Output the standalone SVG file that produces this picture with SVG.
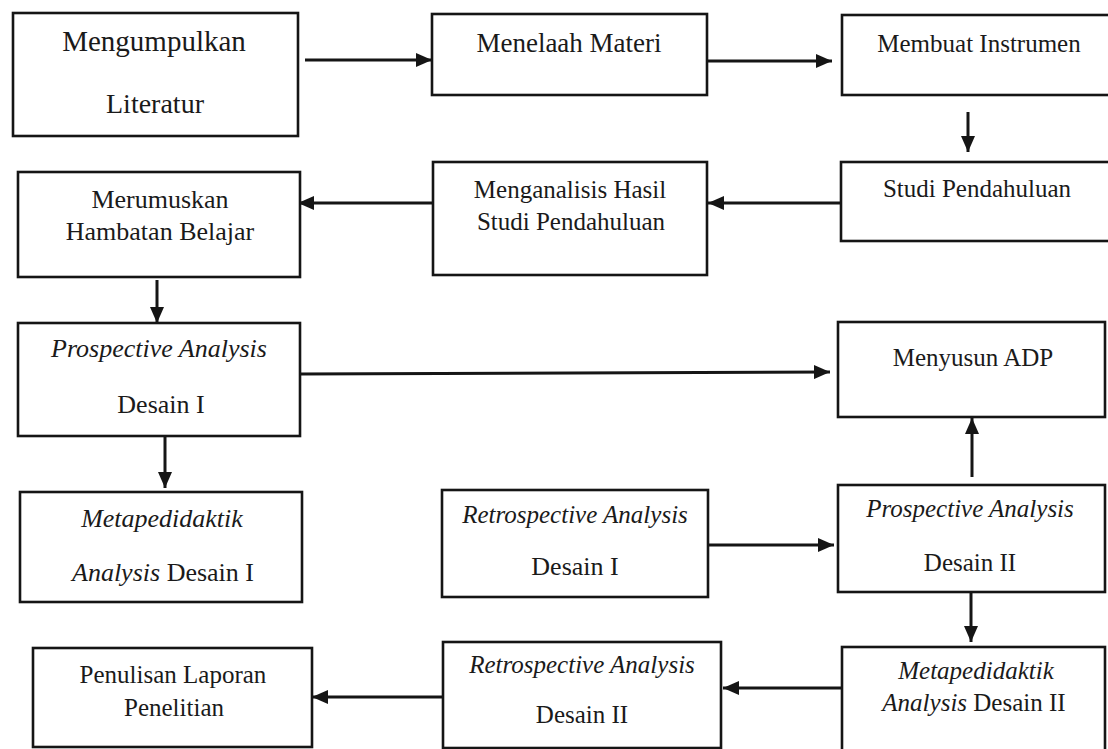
<svg xmlns="http://www.w3.org/2000/svg" width="1108" height="749" viewBox="0 0 1108 749">
<style>
  .box { fill: #ffffff; stroke: #151515; stroke-width: 2.6; }
  .t { font-family: "Liberation Serif", "Times New Roman", serif; font-size: 25px; fill: #1a1a1a; text-anchor: middle; }
  .i { font-style: italic; }
  .conn { stroke: #151515; stroke-width: 3; fill: none; marker-end: url(#arrow); }
</style>
<defs>
  <marker id="arrow" markerUnits="userSpaceOnUse" markerWidth="18" markerHeight="14" refX="16" refY="7" orient="auto">
    <path d="M0,0 L16,7 L0,14 z" fill="#151515"/>
  </marker>
</defs>
<rect width="1108" height="749" fill="#ffffff"/>

<g id="connectors">
  <line class="conn" x1="305" y1="60" x2="432" y2="60"/>
  <line class="conn" x1="707" y1="61" x2="832" y2="61"/>
  <line class="conn" x1="968" y1="112" x2="968" y2="152"/>
  <line class="conn" x1="841" y1="203" x2="708" y2="203"/>
  <line class="conn" x1="433" y1="203" x2="298" y2="203"/>
  <line class="conn" x1="157" y1="280" x2="157" y2="323"/>
  <line class="conn" x1="300" y1="374" x2="830" y2="372"/>
  <line class="conn" x1="165" y1="436" x2="165" y2="488"/>
  <line class="conn" x1="708" y1="545" x2="834" y2="545"/>
  <line class="conn" x1="972" y1="477" x2="972" y2="418"/>
  <line class="conn" x1="971" y1="592" x2="971" y2="642"/>
  <line class="conn" x1="842" y1="688" x2="723" y2="688"/>
  <line class="conn" x1="443" y1="697" x2="312" y2="697"/>
</g>

<g id="n1">
  <rect class="box" x="13" y="13" width="285" height="123"/>
  <text class="t" x="154" y="51" style="font-size:29px">Mengumpulkan</text>
  <text class="t" x="155" y="113" style="font-size:28px">Literatur</text>
</g>
<g id="n2">
  <rect class="box" x="432" y="14" width="275" height="81"/>
  <text class="t" x="569" y="52" style="font-size:27px">Menelaah Materi</text>
</g>
<g id="n3">
  <rect class="box" x="842" y="15" width="280" height="80"/>
  <text class="t" x="979" y="52">Membuat Instrumen</text>
</g>
<g id="n4">
  <rect class="box" x="841" y="162" width="280" height="79"/>
  <text class="t" x="977" y="197">Studi Pendahuluan</text>
</g>
<g id="n5">
  <rect class="box" x="433" y="162" width="274" height="113"/>
  <text class="t" x="570" y="198">Menganalisis Hasil</text>
  <text class="t" x="571" y="230">Studi Pendahuluan</text>
</g>
<g id="n6">
  <rect class="box" x="18" y="172" width="282" height="105"/>
  <text class="t" x="160" y="208" style="font-size:26px">Merumuskan</text>
  <text class="t" x="160" y="240" style="font-size:26px">Hambatan Belajar</text>
</g>
<g id="n7">
  <rect class="box" x="18" y="323" width="282" height="113"/>
  <text class="t i" x="159" y="357" style="font-size:26px">Prospective Analysis</text>
  <text class="t" x="161" y="413" style="font-size:26px">Desain I</text>
</g>
<g id="n8">
  <rect class="box" x="838" y="322" width="267" height="95"/>
  <text class="t" x="973" y="366">Menyusun ADP</text>
</g>
<g id="n9">
  <rect class="box" x="20" y="492" width="282" height="110"/>
  <text class="t i" x="162" y="527" style="font-size:26px">Metapedidaktik</text>
  <text class="t" x="163" y="581" style="font-size:26px"><tspan class="i">Analysis</tspan> Desain I</text>
</g>
<g id="n10">
  <rect class="box" x="442" y="490" width="266" height="107"/>
  <text class="t i" x="575" y="523">Retrospective Analysis</text>
  <text class="t" x="575" y="575" style="font-size:26px">Desain I</text>
</g>
<g id="n11">
  <rect class="box" x="838" y="485" width="267" height="107"/>
  <text class="t i" x="970" y="517">Prospective Analysis</text>
  <text class="t" x="970" y="571">Desain II</text>
</g>
<g id="n12">
  <rect class="box" x="33" y="648" width="279" height="99"/>
  <text class="t" x="173" y="683">Penulisan Laporan</text>
  <text class="t" x="174" y="716">Penelitian</text>
</g>
<g id="n13">
  <rect class="box" x="443" y="642" width="278" height="106"/>
  <text class="t i" x="582" y="673">Retrospective Analysis</text>
  <text class="t" x="582" y="723">Desain II</text>
</g>
<g id="n14">
  <rect class="box" x="842" y="647" width="263" height="112"/>
  <text class="t i" x="976" y="679">Metapedidaktik</text>
  <text class="t" x="974" y="711"><tspan class="i">Analysis</tspan> Desain II</text>
</g>
</svg>
